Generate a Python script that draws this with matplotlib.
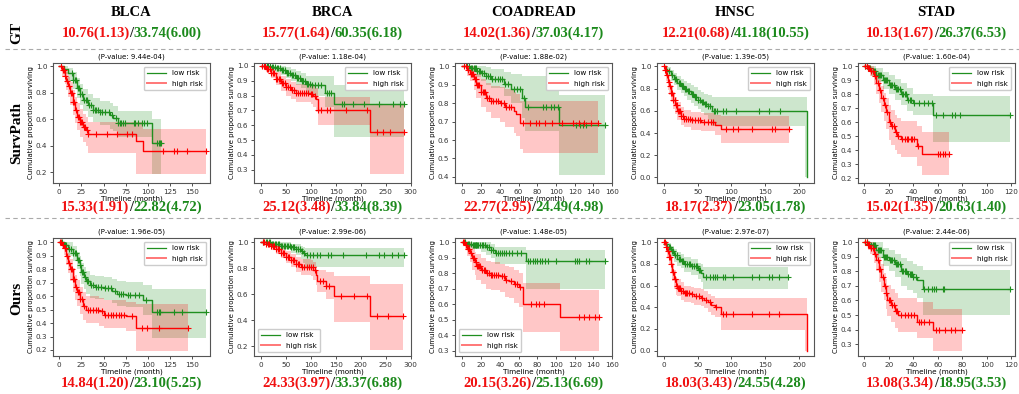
import numpy as np
import matplotlib.pyplot as plt
from matplotlib.lines import Line2D
from matplotlib.ticker import MultipleLocator
from matplotlib.offsetbox import TextArea, HPacker, AnnotationBbox

CANCERS = ["BLCA", "BRCA", "COADREAD", "HNSC", "STAD"]
ROWS = ["SurvPath", "Ours"]

# median survival (std) for high-risk / low-risk groups
GT_HIGH = ["10.76(1.13)", "15.77(1.64)", "14.02(1.36)", "12.21(0.68)", "10.13(1.67)"]
GT_LOW = ["33.74(6.00)", "60.35(6.18)", "37.03(4.17)", "41.18(10.55)", "26.37(6.53)"]
SP_HIGH_TXT = ["15.33(1.91)", "25.12(3.48)", "22.77(2.95)", "18.17(2.37)", "15.02(1.35)"]
SP_LOW_TXT = ["22.82(4.72)", "33.84(8.39)", "24.49(4.98)", "23.05(1.78)", "20.63(1.40)"]
OU_HIGH_TXT = ["14.84(1.20)", "24.33(3.97)", "20.15(3.26)", "18.03(3.43)", "13.08(3.34)"]
OU_LOW_TXT = ["23.10(5.25)", "33.37(6.88)", "25.13(6.69)", "24.55(4.28)", "18.95(3.53)"]

SP_PVALS = ["9.44e-04", "1.18e-04", "1.88e-02", "1.39e-05", "1.60e-04"]
OU_PVALS = ["1.96e-05", "2.99e-06", "1.48e-05", "2.97e-07", "2.44e-06"]

# Kaplan-Meier knots: (time, survival, ci_lower, ci_upper)
SP_BLCA_LOW = [(0, 1.00, 1.00, 1.00), (5, 0.98, 0.94, 1.00), (10, 0.95, 0.89, 0.99),
               (15, 0.90, 0.83, 0.96), (20, 0.84, 0.76, 0.91), (23, 0.79, 0.71, 0.87),
               (27, 0.745, 0.66, 0.83), (33, 0.71, 0.62, 0.79), (38, 0.67, 0.58, 0.76),
               (46, 0.655, 0.56, 0.74), (57, 0.63, 0.53, 0.72), (61, 0.61, 0.51, 0.70),
               (66, 0.57, 0.47, 0.66), (105, 0.42, 0.19, 0.60)]
SP_BLCA_LOW_CENS = [14, 16, 18, 19, 21, 22, 24, 26, 28, 30, 31, 34, 36, 38, 40, 42, 44, 46, 48,
                    52, 56, 60, 64, 66, 68, 70, 72, 74, 84, 86, 89, 93, 96, 99, 110, 112, 114, 115]
SP_BLCA_HIGH = [(0, 1.00, 1.00, 1.00), (3, 0.97, 0.92, 1.00), (6, 0.93, 0.87, 0.98),
                (8, 0.89, 0.82, 0.96), (10, 0.85, 0.77, 0.92), (12, 0.80, 0.71, 0.88),
                (15, 0.73, 0.63, 0.82), (18, 0.67, 0.57, 0.77), (20, 0.62, 0.52, 0.72),
                (23, 0.58, 0.47, 0.68), (27, 0.54, 0.43, 0.64), (30, 0.52, 0.40, 0.62),
                (32, 0.49, 0.35, 0.58), (87, 0.44, 0.19, 0.58), (94, 0.36, 0.19, 0.53)]
SP_BLCA_HIGH_CENS = [2, 4, 5, 7, 9, 11, 13, 14, 16, 17, 19, 21, 22, 24, 25, 26, 28, 29, 31, 33,
                     42, 54, 65, 76, 82, 117, 129, 133, 144, 166]

SP_BRCA_LOW = [(0, 1.00, 1.00, 1.00), (20, 0.995, 0.98, 1.00), (30, 0.985, 0.96, 1.00),
               (40, 0.97, 0.94, 1.00), (50, 0.955, 0.92, 0.99), (60, 0.94, 0.90, 0.98),
               (70, 0.92, 0.87, 0.965), (80, 0.90, 0.85, 0.95), (90, 0.88, 0.82, 0.935),
               (100, 0.87, 0.80, 0.93), (128, 0.82, 0.72, 0.93), (147, 0.745, 0.52, 0.87)]
SP_BRCA_LOW_CENS = [8, 12, 15, 18, 22, 25, 28, 32, 35, 38, 42, 45, 48, 52, 55, 58, 62, 65, 68, 72,
                    75, 78, 82, 85, 88, 92, 95, 98, 103, 108, 115, 120, 133, 136, 140,
                    162, 167, 184, 206, 236, 265, 279, 287]
SP_BRCA_HIGH = [(0, 1.00, 1.00, 1.00), (10, 0.98, 0.96, 1.00), (20, 0.95, 0.92, 0.99),
                (30, 0.915, 0.87, 0.96), (40, 0.885, 0.83, 0.93), (50, 0.86, 0.80, 0.91),
                (60, 0.84, 0.78, 0.89), (70, 0.82, 0.76, 0.88), (100, 0.81, 0.745, 0.875),
                (105, 0.795, 0.72, 0.865), (110, 0.775, 0.69, 0.85), (114, 0.70, 0.60, 0.79),
                (218, 0.555, 0.27, 0.74)]
SP_BRCA_HIGH_CENS = [3, 6, 9, 12, 15, 18, 21, 24, 27, 30, 33, 36, 39, 42, 45, 48, 51, 54, 58, 62,
                     66, 70, 74, 78, 82, 86, 90, 95, 100, 103, 108, 115, 120, 132, 139, 171, 213,
                     232, 245, 258, 287]

SP_COAD_LOW = [(0, 1.00, 1.00, 1.00), (8, 0.99, 0.97, 1.00), (15, 0.975, 0.94, 1.00),
               (20, 0.965, 0.92, 1.00), (25, 0.95, 0.90, 0.995), (30, 0.93, 0.88, 0.985),
               (44, 0.905, 0.84, 0.97), (52, 0.875, 0.80, 0.96), (64, 0.83, 0.72, 0.95),
               (67, 0.78, 0.65, 0.945), (103, 0.68, 0.41, 0.845)]
SP_COAD_LOW_CENS = [5, 7, 9, 10, 12, 13, 14, 16, 18, 19, 21, 23, 25, 27, 29, 32, 35, 38, 40, 42,
                    46, 49, 55, 58, 62, 66, 70, 86, 89, 95, 98, 102, 121, 126, 129, 132, 153]
SP_COAD_HIGH = [(0, 1.00, 1.00, 1.00), (5, 0.98, 0.95, 1.00), (8, 0.96, 0.92, 1.00),
                (12, 0.93, 0.87, 0.98), (15, 0.90, 0.83, 0.96), (20, 0.86, 0.78, 0.93),
                (25, 0.83, 0.75, 0.91), (30, 0.81, 0.72, 0.895), (40, 0.80, 0.70, 0.89),
                (45, 0.78, 0.67, 0.875), (55, 0.76, 0.64, 0.86), (57, 0.74, 0.62, 0.85),
                (62, 0.695, 0.55, 0.81), (65, 0.695, 0.53, 0.81)]
SP_COAD_HIGH_CENS = [2, 4, 6, 9, 10, 11, 13, 14, 16, 17, 18, 20, 22, 23, 24, 26, 28, 31, 33, 36,
                     38, 41, 44, 47, 50, 52, 65, 72, 79, 82, 88, 96, 107, 118, 125, 130, 137, 145]

SP_HNSC_LOW = [(0, 1.00, 1.00, 1.00), (3, 0.98, 0.95, 1.00), (5, 0.96, 0.92, 0.99),
               (10, 0.92, 0.87, 0.97), (15, 0.885, 0.83, 0.94), (20, 0.85, 0.79, 0.91),
               (25, 0.825, 0.76, 0.89), (30, 0.80, 0.73, 0.87), (35, 0.775, 0.70, 0.85),
               (40, 0.75, 0.67, 0.83), (45, 0.725, 0.645, 0.81), (50, 0.70, 0.62, 0.79),
               (55, 0.68, 0.59, 0.77), (60, 0.66, 0.56, 0.75), (65, 0.64, 0.52, 0.74),
               (71, 0.60, 0.46, 0.72), (209, 0.60, 0.0, 0.72), (212, 0.0, 0.0, 0.0)]
SP_HNSC_LOW_CENS = [8, 12, 16, 18, 22, 24, 27, 29, 31, 33, 36, 38, 41, 43, 46, 48, 51, 53, 56,
                    58, 61, 63, 66, 68, 74, 76, 78, 87, 92, 107, 141, 155, 172]
SP_HNSC_HIGH = [(0, 1.00, 1.00, 1.00), (2, 0.97, 0.93, 1.00), (4, 0.92, 0.87, 0.97),
                (6, 0.86, 0.79, 0.92), (8, 0.82, 0.74, 0.88), (10, 0.76, 0.68, 0.83),
                (13, 0.70, 0.62, 0.77), (17, 0.65, 0.57, 0.72), (20, 0.60, 0.52, 0.68),
                (25, 0.55, 0.47, 0.63), (30, 0.53, 0.45, 0.61), (40, 0.515, 0.43, 0.59),
                (55, 0.50, 0.42, 0.58), (75, 0.47, 0.38, 0.565), (84, 0.44, 0.31, 0.55)]
SP_HNSC_HIGH_CENS = [1, 2, 3, 5, 7, 9, 11, 12, 14, 16, 18, 19, 21, 23, 24, 26, 28, 30, 33, 36,
                     39, 42, 46, 50, 54, 60, 66, 70, 73, 92, 102, 109, 131, 160, 165, 185]

SP_STAD_LOW = [(0, 1.00, 1.00, 1.00), (3, 0.99, 0.97, 1.00), (6, 0.97, 0.93, 1.00),
               (10, 0.94, 0.89, 0.99), (15, 0.90, 0.84, 0.96), (20, 0.87, 0.80, 0.935),
               (25, 0.835, 0.76, 0.91), (30, 0.80, 0.72, 0.88), (35, 0.76, 0.68, 0.845),
               (40, 0.74, 0.655, 0.80), (56, 0.65, 0.46, 0.785)]
SP_STAD_LOW_CENS = [1, 2, 3, 4, 5, 7, 8, 9, 11, 12, 13, 14, 16, 17, 18, 19, 21, 22, 23, 24, 26,
                    27, 28, 29, 31, 32, 33, 34, 36, 37, 38, 41, 45, 49, 52, 55, 59, 64, 72, 74,
                    78, 119]
SP_STAD_HIGH = [(0, 1.00, 1.00, 1.00), (3, 0.985, 0.96, 1.00), (5, 0.97, 0.93, 1.00),
                (8, 0.93, 0.87, 0.98), (10, 0.88, 0.80, 0.95), (12, 0.83, 0.74, 0.91),
                (14, 0.77, 0.67, 0.86), (16, 0.72, 0.61, 0.81), (18, 0.67, 0.55, 0.77),
                (20, 0.60, 0.47, 0.72), (22, 0.57, 0.44, 0.69), (25, 0.53, 0.40, 0.65),
                (27, 0.50, 0.37, 0.63), (30, 0.48, 0.35, 0.61), (43, 0.43, 0.29, 0.57),
                (47, 0.37, 0.22, 0.53)]
SP_STAD_HIGH_CENS = [1, 2, 3, 4, 6, 7, 9, 11, 13, 15, 17, 19, 21, 23, 24, 26, 28, 31, 33, 35,
                     36, 38, 39, 41, 44, 60, 62, 64, 66, 69]

OU_BLCA_LOW = [(0, 1.00, 1.00, 1.00), (5, 0.98, 0.95, 1.00), (10, 0.95, 0.90, 1.00),
               (15, 0.92, 0.86, 0.97), (20, 0.87, 0.80, 0.93), (23, 0.83, 0.75, 0.90),
               (25, 0.78, 0.69, 0.85), (28, 0.74, 0.65, 0.82), (30, 0.71, 0.62, 0.79),
               (35, 0.68, 0.59, 0.76), (40, 0.665, 0.58, 0.75), (50, 0.66, 0.57, 0.745),
               (60, 0.64, 0.55, 0.73), (65, 0.62, 0.53, 0.715), (75, 0.61, 0.52, 0.705),
               (94, 0.57, 0.46, 0.68), (105, 0.48, 0.29, 0.65)]
OU_BLCA_LOW_CENS = [3, 6, 8, 11, 13, 16, 18, 19, 21, 22, 24, 26, 27, 29, 31, 33, 36, 38, 41, 44,
                    47, 52, 55, 58, 63, 67, 70, 72, 77, 80, 85, 90, 98, 110, 112, 114, 129, 138,
                    166]
OU_BLCA_HIGH = [(0, 1.00, 1.00, 1.00), (3, 0.98, 0.95, 1.00), (5, 0.96, 0.91, 1.00),
                (8, 0.90, 0.83, 0.96), (10, 0.85, 0.77, 0.92), (12, 0.80, 0.71, 0.88),
                (15, 0.73, 0.63, 0.81), (18, 0.67, 0.57, 0.76), (20, 0.63, 0.53, 0.72),
                (23, 0.58, 0.47, 0.67), (27, 0.53, 0.42, 0.63), (30, 0.50, 0.40, 0.60),
                (45, 0.487, 0.38, 0.59), (50, 0.46, 0.36, 0.57), (75, 0.45, 0.34, 0.56),
                (87, 0.36, 0.19, 0.54)]
OU_BLCA_HIGH_CENS = [1, 2, 4, 6, 7, 9, 11, 13, 14, 16, 17, 19, 21, 22, 24, 26, 28, 32, 35, 38,
                     41, 44, 48, 52, 55, 58, 61, 64, 67, 70, 73, 82, 93, 99, 113, 145]

OU_BRCA_LOW = [(0, 1.00, 1.00, 1.00), (20, 0.99, 0.975, 1.00), (40, 0.975, 0.95, 1.00),
               (60, 0.96, 0.92, 0.99), (70, 0.95, 0.90, 0.985), (80, 0.935, 0.87, 0.975),
               (85, 0.915, 0.84, 0.96), (88, 0.90, 0.81, 0.955)]
OU_BRCA_LOW_CENS = [5, 10, 13, 16, 19, 22, 25, 28, 31, 34, 37, 40, 43, 46, 49, 52, 55, 58, 61,
                    64, 67, 70, 74, 78, 82, 86, 92, 99, 105, 112, 118, 135, 141, 164, 210, 236,
                    247, 262, 275, 286]
OU_BRCA_HIGH = [(0, 1.00, 1.00, 1.00), (10, 0.99, 0.97, 1.00), (20, 0.97, 0.94, 1.00),
                (30, 0.948, 0.91, 0.98), (40, 0.92, 0.88, 0.96), (50, 0.89, 0.84, 0.935),
                (60, 0.86, 0.81, 0.91), (70, 0.83, 0.77, 0.885), (80, 0.81, 0.75, 0.87),
                (100, 0.81, 0.74, 0.865), (105, 0.785, 0.71, 0.85), (110, 0.75, 0.67, 0.82),
                (113, 0.70, 0.62, 0.79), (130, 0.663, 0.56, 0.77), (147, 0.583, 0.39, 0.737),
                (218, 0.434, 0.17, 0.68)]
OU_BRCA_HIGH_CENS = [4, 7, 11, 14, 17, 21, 24, 27, 31, 34, 37, 41, 44, 47, 51, 54, 57, 61, 64,
                     67, 71, 74, 77, 83, 87, 92, 96, 100, 104, 108, 118, 125, 131, 137, 161, 187,
                     213, 232, 255, 285]

OU_COAD_LOW = [(0, 1.00, 1.00, 1.00), (5, 0.99, 0.97, 1.00), (10, 0.985, 0.96, 1.00),
               (20, 0.98, 0.94, 1.00), (25, 0.97, 0.92, 1.00), (30, 0.953, 0.90, 0.99),
               (35, 0.93, 0.86, 0.97), (68, 0.88, 0.70, 0.95)]
OU_COAD_LOW_CENS = [3, 6, 7, 9, 11, 12, 13, 14, 15, 16, 17, 19, 21, 22, 24, 26, 28, 31, 33, 36,
                    38, 40, 42, 44, 47, 50, 53, 58, 63, 70, 72, 75, 78, 80, 83, 85, 88, 92, 100,
                    120, 123, 125, 132, 135, 153]
OU_COAD_HIGH = [(0, 1.00, 1.00, 1.00), (3, 0.98, 0.95, 1.00), (5, 0.96, 0.91, 1.00),
                (8, 0.93, 0.87, 1.00), (10, 0.90, 0.82, 0.97), (13, 0.87, 0.79, 0.94),
                (15, 0.85, 0.76, 0.925), (20, 0.82, 0.73, 0.90), (25, 0.80, 0.70, 0.88),
                (30, 0.79, 0.69, 0.87), (40, 0.78, 0.68, 0.86), (45, 0.76, 0.65, 0.85),
                (50, 0.75, 0.64, 0.84), (55, 0.73, 0.61, 0.82), (60, 0.71, 0.58, 0.80),
                (65, 0.60, 0.42, 0.74), (104, 0.515, 0.30, 0.69)]
OU_COAD_HIGH_CENS = [1, 2, 4, 6, 7, 9, 11, 12, 14, 16, 17, 18, 19, 21, 23, 24, 26, 28, 30, 32,
                     34, 36, 38, 42, 44, 47, 52, 56, 58, 62, 73, 79, 82, 87, 125, 130, 135, 142,
                     146]

OU_HNSC_LOW = [(0, 1.00, 1.00, 1.00), (3, 0.98, 0.95, 1.00), (5, 0.96, 0.92, 0.99),
               (10, 0.92, 0.87, 0.97), (15, 0.88, 0.82, 0.94), (20, 0.85, 0.78, 0.91),
               (25, 0.83, 0.76, 0.89), (30, 0.80, 0.73, 0.86), (40, 0.78, 0.70, 0.845),
               (50, 0.74, 0.66, 0.81), (55, 0.72, 0.63, 0.80), (58, 0.68, 0.57, 0.775)]
OU_HNSC_LOW_CENS = [4, 7, 9, 12, 14, 17, 19, 22, 24, 27, 29, 32, 34, 37, 39, 42, 44, 47, 49, 52,
                    54, 63, 68, 73, 75, 78, 88, 91, 102, 131, 141, 155, 160, 170, 184]
OU_HNSC_HIGH = [(0, 1.00, 1.00, 1.00), (3, 0.96, 0.92, 0.99), (5, 0.92, 0.86, 0.96),
                (7, 0.86, 0.79, 0.92), (10, 0.80, 0.72, 0.88), (12, 0.73, 0.64, 0.81),
                (15, 0.66, 0.57, 0.74), (18, 0.60, 0.51, 0.68), (20, 0.58, 0.50, 0.66),
                (25, 0.55, 0.47, 0.63), (30, 0.53, 0.45, 0.60), (40, 0.52, 0.44, 0.59),
                (45, 0.50, 0.42, 0.58), (55, 0.49, 0.41, 0.57), (60, 0.47, 0.39, 0.55),
                (65, 0.45, 0.36, 0.52), (70, 0.42, 0.33, 0.50), (75, 0.40, 0.31, 0.49),
                (84, 0.34, 0.19, 0.49), (209, 0.34, 0.0, 0.49), (212, 0.0, 0.0, 0.0)]
OU_HNSC_HIGH_CENS = [1, 2, 4, 6, 8, 9, 11, 13, 14, 16, 17, 19, 21, 22, 24, 26, 28, 31, 33, 35,
                     37, 42, 47, 52, 57, 63, 68, 77, 87, 92, 102, 131, 155, 170]

OU_STAD_LOW = [(0, 1.00, 1.00, 1.00), (3, 0.99, 0.97, 1.00), (5, 0.98, 0.95, 1.00),
               (10, 0.95, 0.89, 1.00), (15, 0.90, 0.84, 0.96), (20, 0.88, 0.80, 0.95),
               (25, 0.85, 0.76, 0.92), (30, 0.80, 0.70, 0.89), (35, 0.78, 0.67, 0.87),
               (40, 0.76, 0.65, 0.85), (43, 0.74, 0.62, 0.84), (48, 0.68, 0.50, 0.81)]
OU_STAD_LOW_CENS = [1, 2, 3, 4, 6, 7, 8, 9, 11, 12, 13, 14, 16, 17, 18, 19, 21, 22, 23, 24, 26,
                    27, 28, 29, 31, 32, 33, 34, 36, 37, 38, 39, 40, 42, 49, 52, 55, 57, 59, 64,
                    65, 119]
OU_STAD_HIGH = [(0, 1.00, 1.00, 1.00), (3, 0.98, 0.95, 1.00), (5, 0.96, 0.92, 1.00),
                (8, 0.92, 0.86, 0.98), (10, 0.88, 0.80, 0.95), (12, 0.82, 0.73, 0.90),
                (14, 0.76, 0.66, 0.85), (16, 0.70, 0.60, 0.79), (18, 0.65, 0.54, 0.75),
                (19, 0.60, 0.49, 0.71), (22, 0.57, 0.45, 0.68), (25, 0.53, 0.41, 0.65),
                (28, 0.50, 0.38, 0.62), (43, 0.455, 0.34, 0.59), (56, 0.395, 0.25, 0.54)]
OU_STAD_HIGH_CENS = [1, 2, 3, 4, 6, 7, 9, 11, 12, 13, 15, 17, 18, 20, 21, 23, 24, 26, 27, 30,
                     33, 36, 38, 41, 45, 46, 49, 53, 59, 61, 66, 71, 74, 80]

CURVES = [
    [(SP_BLCA_LOW, SP_BLCA_LOW_CENS, SP_BLCA_HIGH, SP_BLCA_HIGH_CENS),
     (SP_BRCA_LOW, SP_BRCA_LOW_CENS, SP_BRCA_HIGH, SP_BRCA_HIGH_CENS),
     (SP_COAD_LOW, SP_COAD_LOW_CENS, SP_COAD_HIGH, SP_COAD_HIGH_CENS),
     (SP_HNSC_LOW, SP_HNSC_LOW_CENS, SP_HNSC_HIGH, SP_HNSC_HIGH_CENS),
     (SP_STAD_LOW, SP_STAD_LOW_CENS, SP_STAD_HIGH, SP_STAD_HIGH_CENS)],
    [(OU_BLCA_LOW, OU_BLCA_LOW_CENS, OU_BLCA_HIGH, OU_BLCA_HIGH_CENS),
     (OU_BRCA_LOW, OU_BRCA_LOW_CENS, OU_BRCA_HIGH, OU_BRCA_HIGH_CENS),
     (OU_COAD_LOW, OU_COAD_LOW_CENS, OU_COAD_HIGH, OU_COAD_HIGH_CENS),
     (OU_HNSC_LOW, OU_HNSC_LOW_CENS, OU_HNSC_HIGH, OU_HNSC_HIGH_CENS),
     (OU_STAD_LOW, OU_STAD_LOW_CENS, OU_STAD_HIGH, OU_STAD_HIGH_CENS)],
]

# axis limits / tick steps per panel
XLIMS = [(-7, 170), (-14, 301), (-8, 160), (-10, 222), (-5, 123)]
XSTEPS = [25, 50, 20, 50, 20]
YLIMS = [[(0.12, 1.025), (0.21, 1.02), (0.367, 1.018), (-0.05, 1.03), (0.165, 1.024)],
         [(0.155, 1.033), (0.125, 1.033), (0.266, 1.028), (-0.05, 1.04), (0.218, 1.03)]]
YSTEPS = [[0.2, 0.1, 0.1, 0.2, 0.1], [0.1, 0.2, 0.1, 0.2, 0.1]]
LEG_LOC = [["upper right"] * 5,
           ["upper right", "lower left", "lower left", "upper right", "upper right"]]

LOW_C = "#1f8f1f"
HIGH_C = "#ff0000"
TXT_RED = "#f01010"
TXT_GREEN = "#1c8a1c"
SERIF = "Liberation Serif"

W, H = 1020, 394
fig = plt.figure(figsize=(W / 100, H / 100), dpi=100)

AX_LEFT = [53, 254, 455, 657, 858]
AX_W = 157
ROW_TOP = [63, 238]
ROW_H = [120, 118]


def km(ax, knots, cens, color, label):
    t, s, lo, hi = (np.array(v, dtype=float) for v in zip(*knots))
    end = max(t[-1], max(cens))
    tt = np.append(t, end)
    ax.fill_between(tt, np.append(lo, lo[-1]), np.append(hi, hi[-1]), step="post",
                    color=color, alpha=0.22, lw=0)
    ax.step(tt, np.append(s, s[-1]), where="post", color=color, lw=1.0, label=label)
    idx = np.searchsorted(t, cens, side="right") - 1
    ax.plot(cens, s[idx], "+", color=color, ms=4.2, mew=0.8, ls="none")


def two_tone(x, y, red, green, size=10.5):
    props = dict(family=SERIF, weight="bold", size=size)
    box = HPacker(children=[TextArea(red, textprops=dict(color=TXT_RED, **props)),
                            TextArea("/", textprops=dict(color="#222222", **props)),
                            TextArea(green, textprops=dict(color=TXT_GREEN, **props))],
                  align="baseline", pad=0, sep=0)
    fig.add_artist(AnnotationBbox(box, (x, y), xycoords="figure fraction",
                                  frameon=False, box_alignment=(0.5, 0.5), pad=0))


pvals = [SP_PVALS, OU_PVALS]
texts = [(SP_HIGH_TXT, SP_LOW_TXT), (OU_HIGH_TXT, OU_LOW_TXT)]
text_y = [207, 383]

for r in range(2):
    for c in range(5):
        ax = fig.add_axes([AX_LEFT[c] / W, 1 - (ROW_TOP[r] + ROW_H[r]) / H,
                           AX_W / W, ROW_H[r] / H])
        low, low_cens, high, high_cens = CURVES[r][c]
        km(ax, low, low_cens, LOW_C, "low risk")
        km(ax, high, high_cens, HIGH_C, "high risk")
        ax.set_xlim(*XLIMS[c])
        ax.set_ylim(*YLIMS[r][c])
        ax.xaxis.set_major_locator(MultipleLocator(XSTEPS[c]))
        ax.yaxis.set_major_locator(MultipleLocator(YSTEPS[r][c]))
        ax.tick_params(labelsize=5.2, length=2.5, width=0.6, pad=1.5, colors="#333333")
        for sp in ax.spines.values():
            sp.set_color("#555555")
            sp.set_linewidth(0.8)
        ax.set_xlabel("Timeline (month)", fontsize=5.2, labelpad=0.5)
        ax.set_ylabel("Cumulative proportion surviving", fontsize=5, labelpad=1.5)
        ax.set_title("(P-value: %s)" % pvals[r][c], fontsize=5, pad=3)
        handles = [Line2D([], [], color=LOW_C, lw=0.9),
                   Line2D([], [], color="#ff7777", lw=1.4)]
        ax.legend(handles, ["low risk", "high risk"], loc=LEG_LOC[r][c], fontsize=5.2,
                  handlelength=2.6, borderpad=0.5, labelspacing=0.6, framealpha=1,
                  edgecolor="#cccccc")
        cx = (AX_LEFT[c] + AX_W / 2) / W
        two_tone(cx, 1 - text_y[r] / H, texts[r][0][c], texts[r][1][c])

# column headers and ground-truth row
for c in range(5):
    cx = (AX_LEFT[c] + AX_W / 2) / W
    fig.text(cx, 1 - 12 / H, CANCERS[c], ha="center", va="center",
             family=SERIF, weight="bold", size=10.5)
    two_tone(cx, 1 - 33 / H, GT_HIGH[c], GT_LOW[c])

# row labels
for label, y in [("GT", 33), ("SurvPath", 133), ("Ours", 298)]:
    fig.text(17 / W, 1 - y / H, label, rotation=90, ha="center", va="center",
             family=SERIF, weight="bold", size=11)

# dashed separators
for y in [49, 218]:
    fig.add_artist(Line2D([5 / W, 1], [1 - y / H, 1 - y / H], color="#aaaaaa",
                          lw=0.8, ls=(0, (4, 3))))

fig.savefig("out.png", dpi=100)
